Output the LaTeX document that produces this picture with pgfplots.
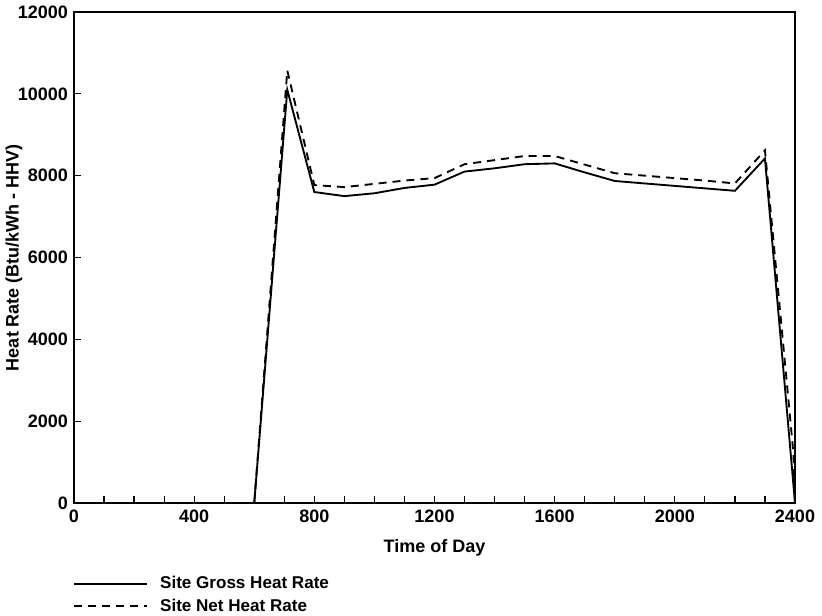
\documentclass[border=0pt]{standalone}
\usepackage{fontspec}
\setmainfont{Liberation Sans}
\usepackage{pgfplots}
\pgfplotsset{compat=1.18}

\newcommand{\lbl}{\fontsize{13.5}{15}\selectfont\bfseries}
\newcommand{\leg}{\fontsize{12.8}{15}\selectfont\bfseries}

\begin{document}
\begin{tikzpicture}[x=0.75pt,y=0.75pt]
\begin{axis}[
  at={(0,0)}, anchor=south west,
  scale only axis, width=540.75pt, height=368.25pt,
  xmin=0, xmax=2400, ymin=0, ymax=12000,
  xtick={0,400,...,2400}, minor x tick num=3,
  ytick={0,2000,...,12000},
  tick pos=left, tick align=inside,
  major tick length=5pt, minor tick length=5pt,
  every tick/.style={black, line width=0.9pt},
  axis line style={line width=1.3pt},
  /pgf/number format/assume math mode=true,
  /pgf/number format/1000 sep={},
  scaled y ticks=false,
  tick label style={font=\lbl},
  xticklabel style={yshift=-2pt},
  yticklabel style={xshift=-1pt},
  label style={font=\lbl},
  xlabel={Time of Day},
  ylabel={Heat Rate (Btu/kWh - HHV)},
  xlabel style={at={(axis description cs:0.5,-0.0916)}, anchor=center},
  ylabel style={at={(axis description cs:-0.0832,0.5)}, anchor=center},
  legend style={at={(axis description cs:0,0)}, anchor=north west, yshift=-53pt, xshift=-1pt,
    draw=none, fill=none, font=\leg, inner sep=0pt, row sep=2pt, column sep=7pt},
  legend cell align=left,
  legend image code/.code={\draw[#1] (0pt,0pt) -- (55pt,0pt);},
]
\addplot[black, line width=1.4pt] coordinates {
  (600,0)(710,10100)(800,7600)(900,7500)(1000,7570)(1100,7700)(1200,7780)
  (1300,8100)(1400,8180)(1500,8280)(1600,8300)(1700,8080)(1800,7870)
  (1900,7810)(2000,7750)(2100,7690)(2200,7630)(2300,8420)(2400,0)};
\addlegendentry{Site Gross Heat Rate}
\addplot[black, line width=1.4pt, dash pattern=on 6pt off 4.5pt] coordinates {
  (600,0)(710,10570)(800,7770)(900,7720)(1000,7800)(1100,7880)(1200,7940)
  (1300,8280)(1400,8380)(1500,8480)(1600,8480)(1700,8270)(1800,8060)
  (1900,8000)(2000,7940)(2100,7880)(2200,7810)(2300,8620)(2395,1200)(2400,0)};
\addlegendentry{Site Net Heat Rate}
\end{axis}
\pgfresetboundingbox
\path[use as bounding box] (-74,-112) rectangle (748,503);
\end{tikzpicture}
\end{document}
